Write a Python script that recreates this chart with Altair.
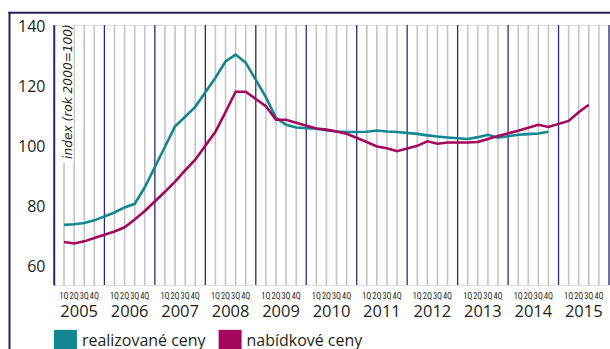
import altair as alt
import pandas as pd

# Quarterly price indices (2000 = 100)
years = list(range(2005, 2016))
quarter_names = ["1Q", "2Q", "3Q", "4Q"]

realizovane = [
    74.0, 74.2, 74.6, 75.5,      # 2005
    78.1, 79.8, 81.0, 86.5,      # 2006
    100.0, 106.8, 110.0, 113.3,  # 2007
    123.0, 128.4, 130.7, 128.0,  # 2008
    116.5, 109.6, 107.3, 106.4,  # 2009
    106.0, 105.5, 105.1, 104.9,  # 2010
    105.0, 105.4, 105.1, 104.9,  # 2011
    104.3, 103.8, 103.4, 103.1,  # 2012
    102.6, 103.2, 104.0, 103.0,  # 2013
    104.0, 104.2, 104.4, 105.0,  # 2014
]
nabidkove = [
    68.3, 67.8, 68.5, 69.6,      # 2005
    71.8, 73.2, 75.8, 78.6,      # 2006
    85.0, 88.4, 92.1, 95.7,      # 2007
    105.0, 111.5, 118.3, 118.3,  # 2008
    113.5, 109.0, 109.0, 108.0,  # 2009
    106.1, 105.7, 105.1, 104.3,  # 2010
    101.6, 100.1, 99.5, 98.5,    # 2011
    100.3, 101.8, 101.0, 101.4,  # 2012
    101.4, 101.6, 102.6, 103.6,  # 2013
    105.3, 106.3, 107.3, 106.6,  # 2014
    108.6, 111.5, 114.0,         # 2015
]

series_names = ["realizované ceny", "nabídkové ceny"]
series_colors = ["#12878f", "#a3075e"]

NAVY = "#2f2a78"
FRAME = "#25205f"
GREY = "#c4c4c4"
TEXT = "#231f20"


def slot(k):
    # each year occupies 5 slots: the year boundary followed by 4 quarters
    year, q = divmod(k, 4)
    return 5 * year + q + 1


rows = []
for name, vals in zip(series_names, [realizovane, nabidkove]):
    for k, v in enumerate(vals):
        rows.append({"series": name, "slot": slot(k), "value": v})
lines_df = pd.DataFrame(rows)

quarter_df = pd.DataFrame(
    [{"slot": 5 * i + q + 1, "label": quarter_names[q]}
     for i in range(len(years)) for q in range(4)]
)
year_line_df = pd.DataFrame({"slot": [5 * i for i in range(len(years) + 1)]})
year_label_df = pd.DataFrame(
    {"slot": [5 * i + 2.5 for i in range(len(years))], "label": [str(y) for y in years]}
)

x_scale = alt.Scale(domain=[0, 55], nice=False, zero=False)
y_scale = alt.Scale(domain=[54, 140.5], nice=False, zero=False)

x_axis = alt.Axis(labels=False, ticks=False, grid=False, title=None,
                  domainColor=NAVY, domainWidth=1.6)
y_axis = alt.Axis(values=[60, 80, 100, 120, 140], grid=False, title=None,
                  tickSize=0, labelPadding=9, labelFont="Open Sans",
                  labelFontSize=16, labelColor=TEXT,
                  domainColor=NAVY, domainWidth=1.6)

quarter_grid = alt.Chart(quarter_df).mark_rule(color=GREY, strokeWidth=1.6).encode(
    x=alt.X("slot:Q", scale=x_scale, axis=None)
)

title_bg = alt.Chart(pd.DataFrame({"a": [0]})).mark_rect(color="white").encode(
    x=alt.value(8.5), x2=alt.value(19.5), y=alt.value(0), y2=alt.value(138)
)

year_grid = alt.Chart(year_line_df).mark_rule(color=NAVY, strokeWidth=1.3).encode(
    x=alt.X("slot:Q", scale=x_scale, axis=None)
)

y_title = alt.Chart(pd.DataFrame({"t": ["index (rok 2000=100)"]})).mark_text(
    angle=270, align="right", baseline="middle", font="DejaVu Sans",
    fontStyle="italic", fontSize=12.2, color=TEXT
).encode(x=alt.value(14.5), y=alt.value(-1), text="t:N")

lines = alt.Chart(lines_df).mark_line(strokeWidth=2.6).encode(
    x=alt.X("slot:Q", scale=x_scale, axis=x_axis),
    y=alt.Y("value:Q", scale=y_scale, axis=y_axis),
    color=alt.Color("series:N", scale=alt.Scale(domain=series_names, range=series_colors),
                    legend=None),
    detail="series:N",
)

quarter_labels = alt.Chart(quarter_df).mark_text(
    font="Roboto Condensed, Roboto", fontSize=8.3, color=TEXT, baseline="middle"
).encode(x=alt.X("slot:Q", scale=x_scale, axis=None), y=alt.value(272), text="label:N")

year_labels = alt.Chart(year_label_df).mark_text(
    font="Open Sans", fontSize=16.5, color=TEXT, baseline="middle"
).encode(x=alt.X("slot:Q", scale=x_scale, axis=None), y=alt.value(287), text="label:N")

# legend drawn as filled squares with labels
legend_layers = []
for name, color, sq_x, tx_x in zip(series_names, series_colors, [11.5, 176.3], [28, 192.7]):
    d = pd.DataFrame({"name": [name]})
    legend_layers.append(
        alt.Chart(d).mark_square(size=529, color=color, opacity=1, filled=True).encode(
            x=alt.value(sq_x), y=alt.value(316.5))
    )
    legend_layers.append(
        alt.Chart(d).mark_text(font="Open Sans", fontSize=16, color=TEXT,
                               align="left", baseline="alphabetic").encode(
            x=alt.value(tx_x), y=alt.value(321), text="name:N")
    )

frame_left = alt.Chart(pd.DataFrame({"a": [0]})).mark_rule(color=FRAME, strokeWidth=2).encode(
    x=alt.value(-44.5), y=alt.value(-13.5), y2=alt.value(330)
)
frame_top = alt.Chart(pd.DataFrame({"a": [0]})).mark_rule(color=FRAME, strokeWidth=2).encode(
    x=alt.value(-45.5), x2=alt.value(570), y=alt.value(-12.5)
)

chart = alt.layer(
    quarter_grid, title_bg, year_grid, y_title, lines, quarter_labels, year_labels,
    *legend_layers, frame_left, frame_top
).properties(
    width=555.5, height=260,
    autosize=alt.AutoSizeParams(type="none"),
    padding={"left": 54, "top": 25, "right": 1, "bottom": 64},
).configure_view(stroke=None).configure(background="white")

chart.save("out.html", embed_options={"renderer": "svg", "actions": False})
